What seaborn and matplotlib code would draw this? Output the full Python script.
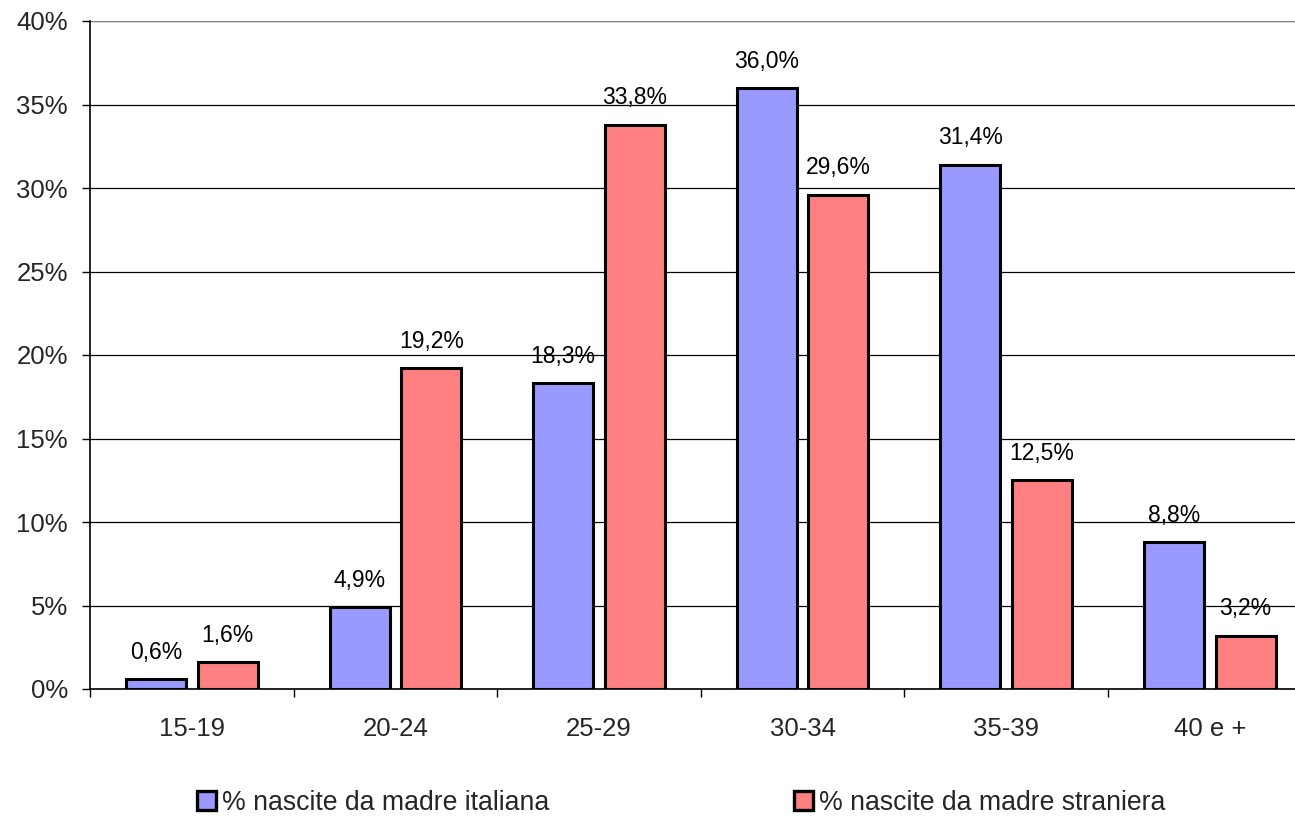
import matplotlib
matplotlib.use("Agg")
import matplotlib.pyplot as plt
import seaborn as sns
import pandas as pd
from matplotlib.patches import Patch
from matplotlib.ticker import FixedLocator

# Age classes of the mother and share of births in each class
classi = ["15-19", "20-24", "25-29", "30-34", "35-39", "40 e +"]
italiana = [0.6, 4.9, 18.3, 36.0, 31.4, 8.8]
straniera = [1.6, 19.2, 33.8, 29.6, 12.5, 3.2]
serie = ["% nascite da madre italiana", "% nascite da madre straniera"]
colori = ["#9999FF", "#FF8080"]

df = pd.DataFrame({
    "classe": classi * 2,
    "valore": italiana + straniera,
    "serie": [serie[0]] * len(classi) + [serie[1]] * len(classi),
})

sns.set_theme(style="white")
plt.rcParams["font.family"] = ["Liberation Sans", "DejaVu Sans"]

W, H = 1295, 819
fig = plt.figure(figsize=(W / 100, H / 100), dpi=100)
left, right_px, top, bottom = 90, 90 + 6 * 203.6, 21, 689
ax = fig.add_axes([left / W, 1 - bottom / H, (right_px - left) / W, (bottom - top) / H])

sns.barplot(data=df, x="classe", y="valore", hue="serie", order=classi,
            hue_order=serie, palette=colori, width=0.704, gap=0.162,
            edgecolor="black", linewidth=2.2, saturation=1, legend=False,
            ax=ax, zorder=3)

for cont in ax.containers:
    ax.bar_label(cont, labels=[f"{v:.1f}%".replace(".", ",") for v in cont.datavalues],
                 padding=11, fontsize=16.5, color="black")

ax.set_ylim(0, 40)
ax.set_xlim(-0.5, 5.5)
ax.set_yticks(range(0, 41, 5))
ax.set_yticklabels([f"{v}%" for v in range(0, 41, 5)], fontsize=18.5)
ax.yaxis.grid(True, color="black", linewidth=0.9, zorder=0)
ax.set_axisbelow(True)
ax.tick_params(axis="y", direction="out", length=5.8, width=1, color="black", pad=10, left=True)

ax.set_xticks(range(len(classi)))
ax.set_xticklabels(classi, fontsize=18.5)
ax.xaxis.set_minor_locator(FixedLocator([i - 0.5 for i in range(len(classi) + 1)]))
ax.tick_params(axis="x", which="major", length=0, pad=20)
ax.tick_params(axis="x", which="minor", direction="out", length=5.8, width=1,
               color="black", bottom=True)
ax.set_xlabel("")
ax.set_ylabel("")

for s in ["top", "right"]:
    ax.spines[s].set_visible(False)
ax.spines["left"].set_color("black")
ax.spines["left"].set_linewidth(1.2)
ax.spines["bottom"].set_color("black")
ax.spines["bottom"].set_linewidth(1.2)
ax.axhline(40, color="#808080", linewidth=1.5, zorder=1)

handles = [Patch(facecolor=c, edgecolor="black", linewidth=2.4) for c in colori]
fig.legend(handles, serie, loc="center left", bbox_to_anchor=(197 / W, 1 - 803 / H),
           ncol=2, frameon=False, fontsize=19.2, handlelength=0.72, handleheight=0.72,
           handletextpad=0.2, columnspacing=9.2, borderaxespad=0, borderpad=0)

fig.savefig("out.png", dpi=100)
